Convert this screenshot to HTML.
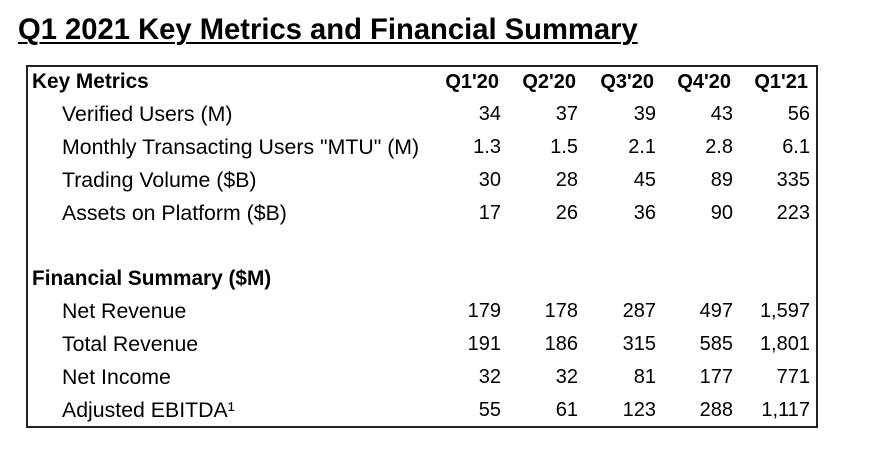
<!DOCTYPE html>
<html><head><meta charset="utf-8"><style>
body{margin:0;width:884px;height:450px;background:#fff;font-family:"Liberation Sans",Arial,sans-serif;color:#000;position:relative;overflow:hidden}
.t{position:absolute;white-space:nowrap;line-height:1}
#title{left:18px;top:16px;font-size:29.2px;font-weight:bold;text-decoration:underline;text-decoration-thickness:2px;text-underline-offset:3px}
#box{position:absolute;left:26px;top:65px;width:788px;height:359px;border:2px solid #222}
.h{font-weight:bold;font-size:20.8px}
.r{font-size:21.3px}
.n{font-size:20px;text-align:right;width:100px}
</style></head><body>
<div id="title" class="t">Q1 2021 Key Metrics and Financial Summary</div>
<div id="box"></div>
<script>
const cols=["Q1'20","Q2'20","Q3'20","Q4'20","Q1'21"];
const colRight=[501,578,656,733,810];
const rows=[
 {label:"Key Metrics",head:true,y:82},
 {label:"Verified Users (M)",y:115,v:["34","37","39","43","56"]},
 {label:"Monthly Transacting Users \"MTU\" (M)",y:148,v:["1.3","1.5","2.1","2.8","6.1"]},
 {label:"Trading Volume ($B)",y:181,v:["30","28","45","89","335"]},
 {label:"Assets on Platform ($B)",y:214,v:["17","26","36","90","223"]},
 {label:"Financial Summary ($M)",head:true,y:279},
 {label:"Net Revenue",y:312,v:["179","178","287","497","1,597"]},
 {label:"Total Revenue",y:345,v:["191","186","315","585","1,801"]},
 {label:"Net Income",y:378,v:["32","32","81","177","771"]},
 {label:"Adjusted EBITDA¹",y:411,v:["55","61","123","288","1,117"]}
];
function add(cls,txt,x,y,name,right){
 const d=document.createElement('div');
 d.className='t '+cls;d.textContent=txt;
 
 
 const fs=cls.includes('h')?20.8:21.3;
 d.style.top=(y-fs*0.5)+'px';
 if(right){d.style.left=(x-100)+'px';}else d.style.left=x+'px';
 document.body.appendChild(d);
}
rows.forEach((r,i)=>{
 if(r.head){add('h',r.label,32,r.y,'section-header');}
 else{add('r',r.label,62,r.y,'row-label');
  r.v.forEach((v,j)=>add('n',v,colRight[j],r.y,'cell-value',true));}
});
cols.forEach((c,j)=>add('h n',c,colRight[j]-2,82,'column-header',true));
</script>
</body></html>
